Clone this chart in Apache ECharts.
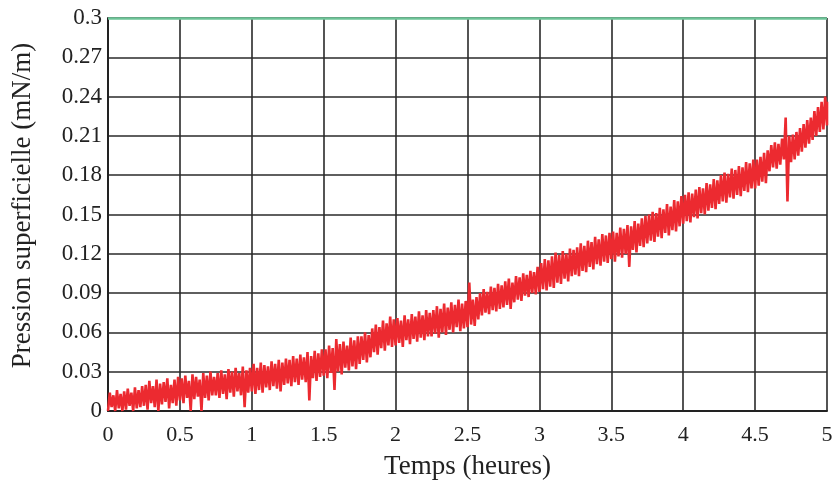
<!DOCTYPE html>
<html>
<head>
<meta charset="utf-8">
<script src="https://cdn.jsdelivr.net/npm/echarts@6/dist/echarts.min.js"></script>
<style>
  html, body { margin: 0; padding: 0; background: #fff; }
  #chart { width: 840px; height: 485px; }
</style>
</head>
<body>
<div id="chart"></div>
<script>
// pas d'échantillonnage (heures)
var pasTemps = 0.025;

// enveloppe du signal bruité : valeur basse puis haute à chaque pas (mN/m)
var pressionBasse = [
  0.000, 0.003, 0.000, 0.002, 0.000, 0.001, 0.004, 0.000, 0.002, 0.003,
  0.004, 0.001, 0.006, 0.003, 0.000, 0.005, 0.007, 0.002, 0.006, 0.004,
  0.008, 0.006, 0.010, 0.000, 0.009, 0.011, 0.000, 0.010, 0.008, 0.012,
  0.012, 0.010, 0.013, 0.009, 0.014, 0.011, 0.015, 0.012, 0.003, 0.014,
  0.015, 0.013, 0.016, 0.014, 0.018, 0.016, 0.019, 0.017, 0.015, 0.020,
  0.021, 0.019, 0.022, 0.020, 0.024, 0.022, 0.008, 0.025, 0.023, 0.026,
  0.027, 0.025, 0.029, 0.016, 0.030, 0.028, 0.033, 0.031, 0.034, 0.032,
  0.036, 0.039, 0.037, 0.041, 0.045, 0.043, 0.048, 0.046, 0.050, 0.049,
  0.050, 0.052, 0.049, 0.054, 0.051, 0.055, 0.053, 0.056, 0.054, 0.057,
  0.057, 0.059, 0.056, 0.060, 0.058, 0.062, 0.060, 0.064, 0.061, 0.063,
  0.064, 0.066, 0.065, 0.070, 0.073, 0.075, 0.074, 0.077, 0.076, 0.078,
  0.079, 0.081, 0.078, 0.083, 0.085, 0.084, 0.088, 0.087, 0.090, 0.089,
  0.091, 0.093, 0.092, 0.095, 0.094, 0.098, 0.097, 0.101, 0.099, 0.103,
  0.104, 0.103, 0.107, 0.106, 0.110, 0.108, 0.112, 0.111, 0.114, 0.113,
  0.116, 0.114, 0.118, 0.117, 0.120, 0.110, 0.123, 0.121, 0.126, 0.125,
  0.128, 0.130, 0.129, 0.133, 0.132, 0.136, 0.134, 0.138, 0.137, 0.141,
  0.143, 0.145, 0.144, 0.148, 0.147, 0.151, 0.150, 0.153, 0.155, 0.154,
  0.158, 0.160, 0.159, 0.163, 0.162, 0.165, 0.164, 0.168, 0.167, 0.170,
  0.170, 0.172, 0.175, 0.174, 0.183, 0.186, 0.185, 0.188, 0.192, 0.160,
  0.190, 0.192, 0.195, 0.198, 0.201, 0.204, 0.207, 0.210, 0.213, 0.215,
  0.218
];

var pressionHaute = [
  0.014, 0.012, 0.016, 0.013, 0.015, 0.017, 0.014, 0.018, 0.016, 0.019,
  0.020, 0.023, 0.019, 0.024, 0.021, 0.022, 0.025, 0.020, 0.024, 0.026,
  0.025, 0.027, 0.023, 0.028, 0.026, 0.024, 0.029, 0.027, 0.030, 0.026,
  0.029, 0.031, 0.028, 0.032, 0.030, 0.033, 0.029, 0.034, 0.031, 0.033,
  0.036, 0.033, 0.037, 0.035, 0.034, 0.038, 0.036, 0.039, 0.037, 0.040,
  0.039, 0.042, 0.040, 0.043, 0.041, 0.045, 0.042, 0.046, 0.044, 0.047,
  0.047, 0.050, 0.048, 0.055, 0.051, 0.053, 0.050, 0.056, 0.054, 0.057,
  0.057, 0.060, 0.058, 0.063, 0.066, 0.064, 0.069, 0.067, 0.072, 0.070,
  0.071, 0.069, 0.073, 0.070, 0.074, 0.072, 0.076, 0.073, 0.077, 0.075,
  0.077, 0.080, 0.078, 0.082, 0.079, 0.083, 0.081, 0.085, 0.082, 0.084,
  0.098, 0.085, 0.087, 0.090, 0.093, 0.091, 0.095, 0.094, 0.097, 0.096,
  0.099, 0.101, 0.098, 0.103, 0.102, 0.105, 0.104, 0.107, 0.106, 0.110,
  0.113, 0.116, 0.115, 0.118, 0.121, 0.119, 0.122, 0.120, 0.124, 0.123,
  0.125, 0.128, 0.126, 0.130, 0.129, 0.133, 0.131, 0.135, 0.134, 0.136,
  0.137, 0.136, 0.140, 0.139, 0.142, 0.141, 0.145, 0.143, 0.147, 0.149,
  0.150, 0.152, 0.151, 0.155, 0.154, 0.158, 0.156, 0.161, 0.160, 0.164,
  0.165, 0.167, 0.166, 0.169, 0.171, 0.170, 0.174, 0.173, 0.177, 0.176,
  0.180, 0.182, 0.181, 0.185, 0.184, 0.187, 0.186, 0.190, 0.189, 0.192,
  0.192, 0.194, 0.197, 0.199, 0.203, 0.205, 0.204, 0.208, 0.224, 0.210,
  0.211, 0.213, 0.216, 0.219, 0.222, 0.224, 0.229, 0.232, 0.236, 0.240,
  0.236
];

var xTicks = [0, 0.5, 1, 1.5, 2, 2.5, 3, 3.5, 4, 4.5, 5];
var yTicks = [0, 0.03, 0.06, 0.09, 0.12, 0.15, 0.18, 0.21, 0.24, 0.27, 0.3];

// signal en créneaux : bas puis haut à chaque pas
var points = [];
pressionBasse.forEach(function (v, i) {
  var t = i * pasTemps;
  points.push([t, v]);
  if (i < pressionBasse.length - 1) {
    points.push([t + pasTemps / 2, pressionHaute[i]]);
  } else {
    points.push([t, pressionHaute[i]]);
  }
});

var chart = echarts.init(document.getElementById('chart'));
var serif = 'Liberation Serif';

chart.setOption({
  animation: false,
  grid: { left: 108, right: 13, top: 18, bottom: 73 },
  xAxis: {
    type: 'value',
    min: xTicks[0],
    max: xTicks[xTicks.length - 1],
    interval: 0.5,
    name: 'Temps (heures)',
    nameLocation: 'middle',
    nameGap: 42,
    nameTextStyle: { fontFamily: serif, fontSize: 27, color: '#222' },
    axisLine: { lineStyle: { color: '#222', width: 2 } },
    axisTick: { show: false },
    axisLabel: { fontFamily: serif, fontSize: 22, color: '#222', margin: 13 },
    splitLine: { lineStyle: { color: '#2a2a2a', width: 1.6 } }
  },
  yAxis: {
    type: 'value',
    min: yTicks[0],
    max: yTicks[yTicks.length - 1],
    interval: 0.03,
    name: 'Pression superficielle (mN/m)',
    nameLocation: 'middle',
    nameGap: 72,
    nameTextStyle: { fontFamily: serif, fontSize: 27, color: '#222', padding: [0, 0, 0, 18] },
    axisLine: { show: true, lineStyle: { color: '#222', width: 2 } },
    axisTick: { show: false },
    axisLabel: { fontFamily: serif, fontSize: 23, color: '#222', margin: 6 },
    splitLine: { lineStyle: { color: '#2a2a2a', width: 1.6 } }
  },
  series: [
    {
      type: 'line',
      data: points,
      step: 'end',
      showSymbol: false,
      lineStyle: { color: '#ec2a30', width: 2.6 },
      markLine: {
        silent: true,
        symbol: 'none',
        label: { show: false },
        lineStyle: { color: '#6cc497', width: 2.5, type: 'solid' },
        data: [{ yAxis: 0.3 }]
      }
    }
  ]
});
</script>
</body>
</html>
